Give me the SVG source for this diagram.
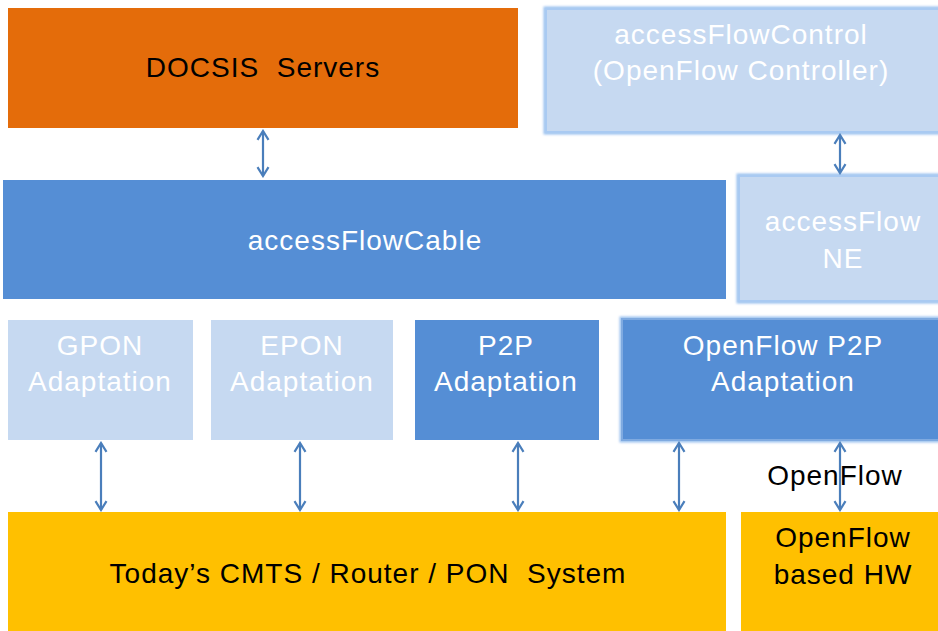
<svg xmlns="http://www.w3.org/2000/svg" width="938" height="631" viewBox="0 0 938 631">
<style>
text{font-family:"Liberation Sans",Arial,sans-serif;font-size:28px;letter-spacing:1px;text-anchor:middle;white-space:pre}
.w{fill:#ffffff}.k{fill:#000000}
.light{fill:#C6D9F1}
.dark{fill:#558ED5}
.glow{fill:none;stroke:#9CC2EF;stroke-width:5;filter:url(#blur)}
.c{stroke:#4A7EBB;stroke-width:2.2;fill:none;marker-start:url(#ah);marker-end:url(#ah)}
</style>
<defs>
<filter id="blur" x="-10%" y="-10%" width="120%" height="120%"><feGaussianBlur stdDeviation="1.2"/></filter>
<marker id="ah" viewBox="0 0 12 12" refX="10" refY="6" markerWidth="6" markerHeight="6" orient="auto-start-reverse" markerUnits="strokeWidth">
<path d="M2,1 L10,6 L2,11" fill="none" stroke="#4A7EBB" stroke-width="2"/>
</marker>
</defs>
<rect width="938" height="631" fill="#ffffff"/>
<g id="docsis">
<rect x="8" y="8" width="510" height="120" fill="#E46C0A"/>
<text x="263" y="77" class="k" xml:space="preserve">DOCSIS  Servers</text>
</g>
<g id="control">
<rect x="546" y="9" width="394" height="123" class="glow"/>
<rect x="546" y="9" width="394" height="123" class="light" stroke="#A9CAF2" stroke-width="2"/>
<text x="741" y="44" class="w">accessFlowControl</text>
<text x="741" y="80" class="w">(OpenFlow Controller)</text>
</g>
<g id="cable">
<rect x="3" y="180" width="723" height="119" class="dark"/>
<text x="365" y="250" class="w">accessFlowCable</text>
</g>
<g id="ne">
<rect x="739" y="176" width="201" height="125" class="glow"/>
<rect x="739" y="176" width="201" height="125" class="light" stroke="#A9CAF2" stroke-width="2"/>
<text x="843" y="231" class="w">accessFlow</text>
<text x="843" y="268" class="w">NE</text>
</g>
<g id="gpon">
<rect x="8" y="320" width="185" height="120" class="light"/>
<text x="100" y="355" class="w">GPON</text>
<text x="100" y="391" class="w">Adaptation</text>
</g>
<g id="epon">
<rect x="211" y="320" width="182" height="120" class="light"/>
<text x="302" y="355" class="w">EPON</text>
<text x="302" y="391" class="w">Adaptation</text>
</g>
<g id="p2p">
<rect x="415" y="320" width="184" height="120" class="dark"/>
<text x="506" y="355" class="w">P2P</text>
<text x="506" y="391" class="w">Adaptation</text>
</g>
<g id="ofp2p">
<rect x="622" y="319" width="318" height="121" class="glow"/>
<rect x="622" y="319" width="318" height="121" class="dark" stroke="#7FAAE0" stroke-width="2"/>
<text x="783" y="355" class="w">OpenFlow P2P</text>
<text x="783" y="391" class="w">Adaptation</text>
</g>
<g id="cmts">
<rect x="8" y="512" width="718" height="119" fill="#FFC000"/>
<text x="368" y="583" class="k" xml:space="preserve">Today’s CMTS / Router / PON  System</text>
</g>
<g id="hw">
<rect x="741" y="512" width="197" height="119" fill="#FFC000"/>
<text x="843" y="547" class="k">OpenFlow</text>
<text x="843" y="584" class="k">based HW</text>
</g>
<text x="835" y="485" class="k">OpenFlow</text>
<g id="connectors">
<line x1="263" y1="131" x2="263" y2="176" class="c"/>
<line x1="840" y1="135" x2="840" y2="173" class="c"/>
<line x1="101" y1="443" x2="101" y2="510" class="c"/>
<line x1="300" y1="443" x2="300" y2="510" class="c"/>
<line x1="518" y1="443" x2="518" y2="510" class="c"/>
<line x1="679" y1="443" x2="679" y2="510" class="c"/>
<line x1="840" y1="443" x2="840" y2="510" class="c"/>
</g>
</svg>
